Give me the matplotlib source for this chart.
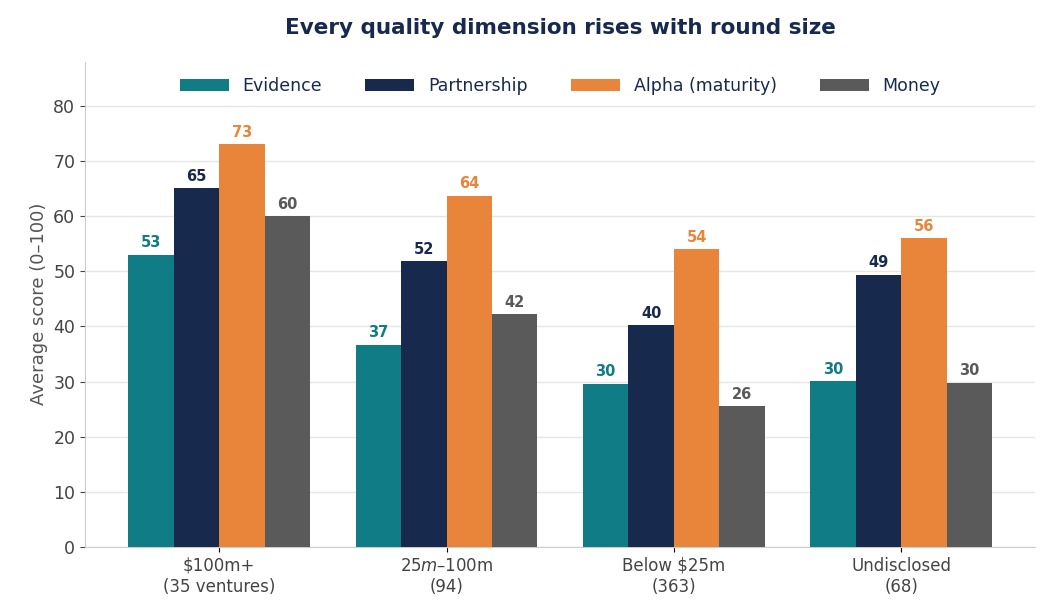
import matplotlib.pyplot as plt
import numpy as np

categories = ["$100m+\n(35 ventures)", "$25m–$100m\n(94)", "Below $25m\n(363)", "Undisclosed\n(68)"]
series_names = ["Evidence", "Partnership", "Alpha (maturity)", "Money"]
evidence = [53.0, 36.7, 29.6, 30.1]
partnership = [65.0, 51.8, 40.2, 49.4]
alpha = [73.0, 63.7, 54.0, 56.0]
money = [60.0, 42.2, 25.5, 29.8]
colors = ["#0f7c86", "#172a4d", "#e8853a", "#5a5a5a"]

fig, ax = plt.subplots(figsize=(10.5, 6.16), dpi=100)
fig.subplots_adjust(left=0.081, right=0.986, top=0.9, bottom=0.112)

x = np.arange(len(categories))
w = 0.2
for i, (vals, name, c) in enumerate(zip([evidence, partnership, alpha, money], series_names, colors)):
    pos = x + (i - 1.5) * w
    ax.bar(pos, vals, w, color=c, label=name, zorder=3)
    for p, v in zip(pos, vals):
        ax.text(p, v + 0.8, f"{v:.0f}", ha="center", va="bottom", fontsize=10.5,
                fontweight="bold", color=c)

ax.set_ylim(0, 88)
ax.set_yticks(range(0, 81, 10))
ax.set_xticks(x)
ax.set_xticklabels(categories, fontsize=12, color="#444444")
ax.tick_params(axis="y", labelsize=12.5, colors="#444444")
ax.set_ylabel("Average score (0–100)", fontsize=13, color="#555555")
ax.grid(axis="y", color="#e6e6e6", linewidth=1, zorder=0)
for s in ["top", "right"]:
    ax.spines[s].set_visible(False)
for s in ["left", "bottom"]:
    ax.spines[s].set_color("#cccccc")
ax.set_title("Every quality dimension rises with round size", fontsize=15.5,
             fontweight="bold", color="#172a4d", pad=20)
leg = ax.legend(loc="upper center", ncol=4, frameon=False, fontsize=12.5,
                bbox_to_anchor=(0.5, 1.0), handlelength=2.8, columnspacing=2.5)
for t in leg.get_texts():
    t.set_color("#172a4d")

fig.savefig("out.png", dpi=100)
